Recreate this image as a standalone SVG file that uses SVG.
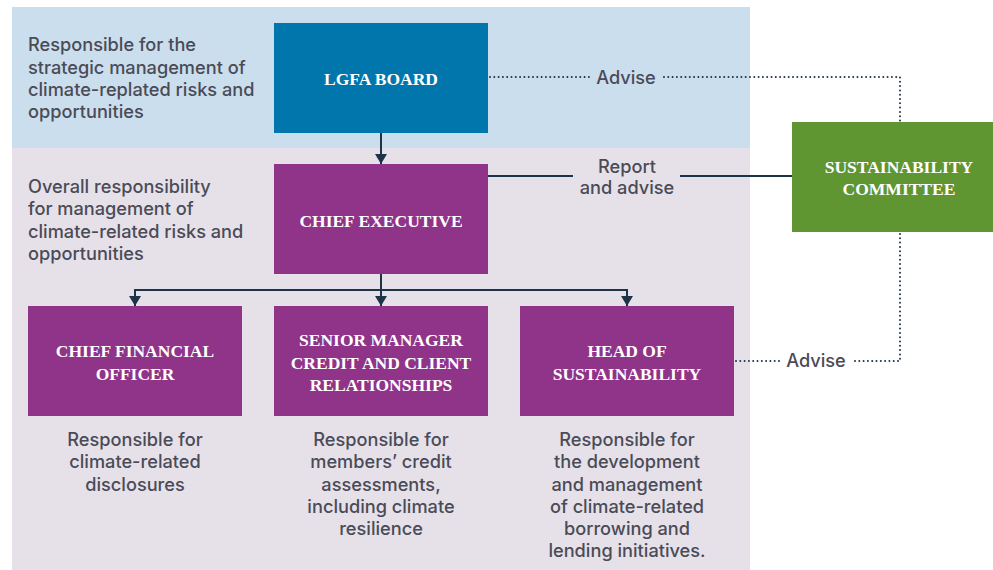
<svg xmlns="http://www.w3.org/2000/svg" width="993" height="570" viewBox="0 0 993 570">
  <style>
    .note { font-family: Inter, "Liberation Sans", Arial, sans-serif; font-size: 18.2px; fill: #4a4b57; font-weight: 500; }
    .mid { text-anchor: middle; }
    .title { font-family: "Liberation Serif", "Times New Roman", serif; font-weight: bold; font-size: 17.5px; fill: #ffffff; text-anchor: middle; }
    .solid { fill: none; stroke: #1d3348; stroke-width: 2; }
    .dotted { fill: none; stroke: #1d3348; stroke-width: 2; stroke-dasharray: 0 4.3; stroke-linecap: round; }
  </style>
  <defs>
    <marker id="arrow" viewBox="0 0 10 12" refX="10" refY="6" markerWidth="10" markerHeight="12" markerUnits="userSpaceOnUse" orient="auto">
      <path d="M0,0 L10,6 L0,12 Z" fill="#1d3348"/>
    </marker>
  </defs>

  <!-- background bands -->
  <rect x="0" y="0" width="993" height="570" fill="#ffffff"/>
  <rect x="12" y="7" width="738" height="141" fill="#cadeed"/>
  <rect x="12" y="148" width="738" height="422" fill="#e6e1e9"/>

  <!-- band descriptions -->
  <g id="board-note">
    <text class="note" x="28" y="51">Responsible for the</text>
    <text class="note" x="28" y="74">strategic management of</text>
    <text class="note" x="28" y="96">climate-replated risks and</text>
    <text class="note" x="28" y="118">opportunities</text>
  </g>
  <g id="executive-note">
    <text class="note" x="28" y="193">Overall responsibility</text>
    <text class="note" x="28" y="215">for management of</text>
    <text class="note" x="28" y="238">climate-related risks and</text>
    <text class="note" x="28" y="260">opportunities</text>
  </g>

  <!-- connectors -->
  <g id="connectors">
    <line class="solid" x1="381" y1="133" x2="381" y2="164" marker-end="url(#arrow)"/>
    <line class="solid" x1="381" y1="274" x2="381" y2="306" marker-end="url(#arrow)"/>
    <polyline class="solid" points="135,306 135,290 627,290 627,306" marker-end="url(#arrow)"/>
    <line class="solid" x1="135" y1="290" x2="135" y2="306" marker-end="url(#arrow)"/>
    <line class="solid" x1="488" y1="176" x2="573" y2="176"/>
    <line class="solid" x1="680" y1="176" x2="792" y2="176"/>
    <polyline class="dotted" points="490,77 590,77"/>
    <polyline class="dotted" points="664,77 900,77 900,122"/>
    <polyline class="dotted" points="900,234 900,361 853,361"/>
    <polyline class="dotted" points="736,361 780,361"/>
    <text class="note mid" x="626" y="84">Advise</text>
    <text class="note mid" x="627" y="173">Report</text>
    <text class="note mid" x="627" y="194">and advise</text>
    <text class="note mid" x="816" y="367">Advise</text>
  </g>

  <!-- nodes -->
  <g id="lgfa-board">
    <rect x="274" y="23" width="214" height="110" fill="#0076ad"/>
    <text class="title" x="381" y="85">LGFA BOARD</text>
  </g>
  <g id="chief-executive">
    <rect x="274" y="164" width="214" height="110" fill="#8f3489"/>
    <text class="title" x="381" y="227">CHIEF EXECUTIVE</text>
  </g>
  <g id="sustainability-committee">
    <rect x="792" y="122" width="216" height="110" fill="#5f9632"/>
    <text class="title" x="899" y="173">SUSTAINABILITY</text>
    <text class="title" x="899" y="195">COMMITTEE</text>
  </g>
  <g id="chief-financial-officer">
    <rect x="28" y="306" width="214" height="110" fill="#8f3489"/>
    <text class="title" x="135" y="357">CHIEF FINANCIAL</text>
    <text class="title" x="135" y="380">OFFICER</text>
    <text class="note mid" x="135" y="446">Responsible for</text>
    <text class="note mid" x="135" y="468">climate-related</text>
    <text class="note mid" x="135" y="491">disclosures</text>
  </g>
  <g id="senior-manager">
    <rect x="274" y="306" width="214" height="110" fill="#8f3489"/>
    <text class="title" x="381" y="346">SENIOR MANAGER</text>
    <text class="title" x="381" y="369">CREDIT AND CLIENT</text>
    <text class="title" x="381" y="391">RELATIONSHIPS</text>
    <text class="note mid" x="381" y="446">Responsible for</text>
    <text class="note mid" x="381" y="468">members’ credit</text>
    <text class="note mid" x="381" y="491">assessments,</text>
    <text class="note mid" x="381" y="513">including climate</text>
    <text class="note mid" x="381" y="535">resilience</text>
  </g>
  <g id="head-of-sustainability">
    <rect x="520" y="306" width="214" height="110" fill="#8f3489"/>
    <text class="title" x="627" y="357">HEAD OF</text>
    <text class="title" x="627" y="380">SUSTAINABILITY</text>
    <text class="note mid" x="627" y="446">Responsible for</text>
    <text class="note mid" x="627" y="468">the development</text>
    <text class="note mid" x="627" y="491">and management</text>
    <text class="note mid" x="627" y="513">of climate-related</text>
    <text class="note mid" x="627" y="535">borrowing and</text>
    <text class="note mid" x="627" y="557">lending initiatives.</text>
  </g>
</svg>
